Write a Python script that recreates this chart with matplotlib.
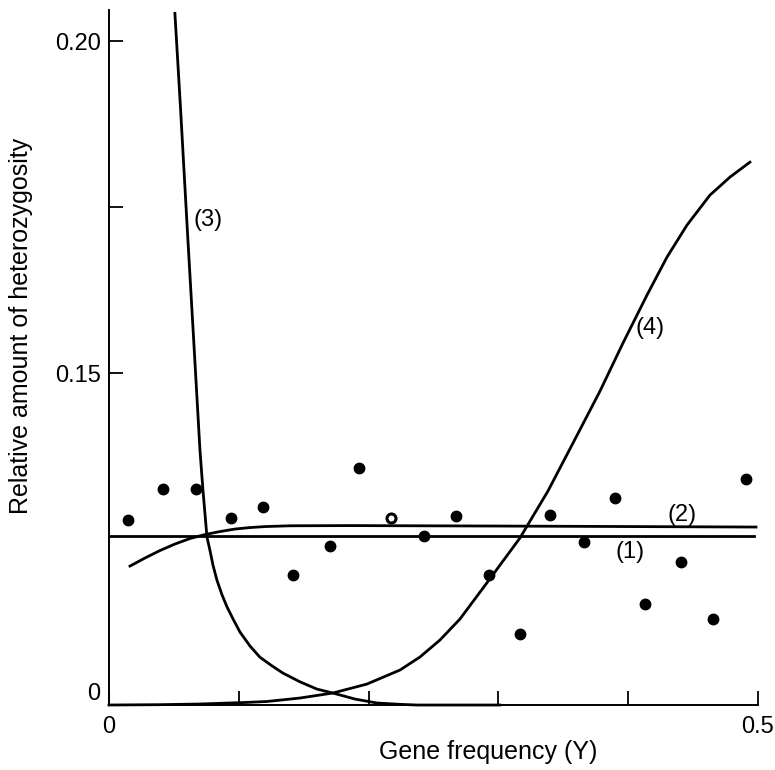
import matplotlib
matplotlib.use("Agg")
import matplotlib.pyplot as plt

plt.rcParams['font.family'] = ['Liberation Sans', 'DejaVu Sans']

# observed heterozygosity at each gene frequency
obs_x = [0.015, 0.042, 0.067, 0.094, 0.119, 0.142, 0.170, 0.193, 0.217, 0.243,
         0.267, 0.293, 0.317, 0.340, 0.366, 0.390, 0.413, 0.441, 0.465, 0.491]
obs_y = [0.1279, 0.1325, 0.1325, 0.1282, 0.1299, 0.1196, 0.1239, 0.1357, 0.1282, 0.1255,
         0.1285, 0.1196, 0.1107, 0.1287, 0.1246, 0.1312, 0.1152, 0.1216, 0.1130, 0.1340]
open_point = 8   # index of the point drawn as an open circle

# model (1): constant
line1_x = [0.0, 0.497]
line1_y = [0.1254, 0.1254]

# model (2)
line2_x = [0.0162, 0.0277, 0.0393, 0.0508, 0.0624, 0.0740, 0.0855, 0.0971, 0.1086,
           0.1202, 0.1394, 0.1857, 0.3012, 0.4985]
line2_y = [0.12093, 0.12214, 0.12327, 0.12425, 0.12508, 0.12568, 0.12613, 0.12651, 0.12673,
           0.12688, 0.12700, 0.12703, 0.12696, 0.12681]

# model (3)
curve3_x = [0.0508, 0.0551, 0.0604, 0.0657, 0.0701, 0.0724, 0.0755, 0.0778, 0.0801, 0.0832,
            0.0871, 0.0909, 0.0955, 0.1009, 0.1086, 0.1163, 0.1256, 0.1341, 0.1471, 0.1602,
            0.1726, 0.1895, 0.2065, 0.2242, 0.2373, 0.3012]
curve3_y = [0.2042, 0.1900, 0.1715, 0.1535, 0.1384, 0.1324, 0.1253, 0.1233, 0.1211, 0.1188,
            0.1166, 0.1148, 0.1130, 0.1110, 0.1089, 0.1072, 0.1059, 0.1048, 0.1035, 0.1024,
            0.1018, 0.1009, 0.1003, 0.1001, 0.1000, 0.1000]

# model (4)
curve4_x = [0.0, 0.0393, 0.0701, 0.1048, 0.1217, 0.1471, 0.1726, 0.1988, 0.2242, 0.2396,
            0.2550, 0.2704, 0.2928, 0.3166, 0.3382, 0.3575, 0.3783, 0.3960, 0.4145, 0.4299,
            0.4453, 0.4630, 0.4784, 0.4938]
curve4_y = [0.1000, 0.10005, 0.10015, 0.10038, 0.10053, 0.10105, 0.10181, 0.10316, 0.10527,
            0.10723, 0.10979, 0.11295, 0.11883, 0.12515, 0.13223, 0.13946, 0.14729, 0.15452,
            0.16175, 0.16747, 0.17229, 0.17681, 0.17952, 0.18178]

curve_labels = ['(1)', '(2)', '(3)', '(4)']
label_x = [0.4014, 0.4414, 0.0763, 0.4168]
label_y = [0.1231, 0.1287, 0.1730, 0.1568]

fig = plt.figure(figsize=(7.75, 7.7), dpi=100)
ax = fig.add_axes([0.1406, 0.0844, 0.8374, 0.9026])

ax.plot(line1_x, line1_y, color='black', lw=2.0, clip_on=False)
ax.plot(line2_x, line2_y, color='black', lw=2.0, clip_on=False)
ax.plot(curve3_x, curve3_y, color='black', lw=2.0, clip_on=False)
ax.plot(curve4_x, curve4_y, color='black', lw=2.0, clip_on=False)

fx = [x for i, x in enumerate(obs_x) if i != open_point]
fy = [y for i, y in enumerate(obs_y) if i != open_point]
ax.plot(fx, fy, 'o', color='black', ms=7.5, clip_on=False)
ax.plot(obs_x[open_point], obs_y[open_point], 'o', mfc='white', mec='black',
        mew=2.2, ms=6.5)

for t, x, y in zip(curve_labels, label_x, label_y):
    ax.text(x, y, t, fontsize=17, ha='center', va='center')

ax.set_xlim(0, 0.5)
ax.set_ylim(0.10, 0.2047)

ax.set_xticks([0, 0.1, 0.2, 0.3, 0.4, 0.5])
ax.set_xticklabels(['0', '', '', '', '', '0.5'])
ax.set_yticks([0.10, 0.15, 0.175, 0.20])
ax.set_yticklabels(['0', '0.15', '', '0.20'])
ax.get_yticklabels()[0].set_verticalalignment('bottom')

ax.tick_params(direction='in', length=10, width=1.3, labelsize=17, pad=6)
ax.tick_params(axis='x', pad=8)

for s in ['top', 'right']:
    ax.spines[s].set_visible(False)
for s in ['left', 'bottom']:
    ax.spines[s].set_linewidth(1.4)

ax.set_xlabel('Gene frequency (Y)', fontsize=18)
ax.set_ylabel('Relative amount of heterozygosity', fontsize=18)
ax.xaxis.set_label_coords(0.584, -0.05)
ax.yaxis.set_label_coords(-0.117, 0.545)

fig.savefig('out.png', dpi=100)
